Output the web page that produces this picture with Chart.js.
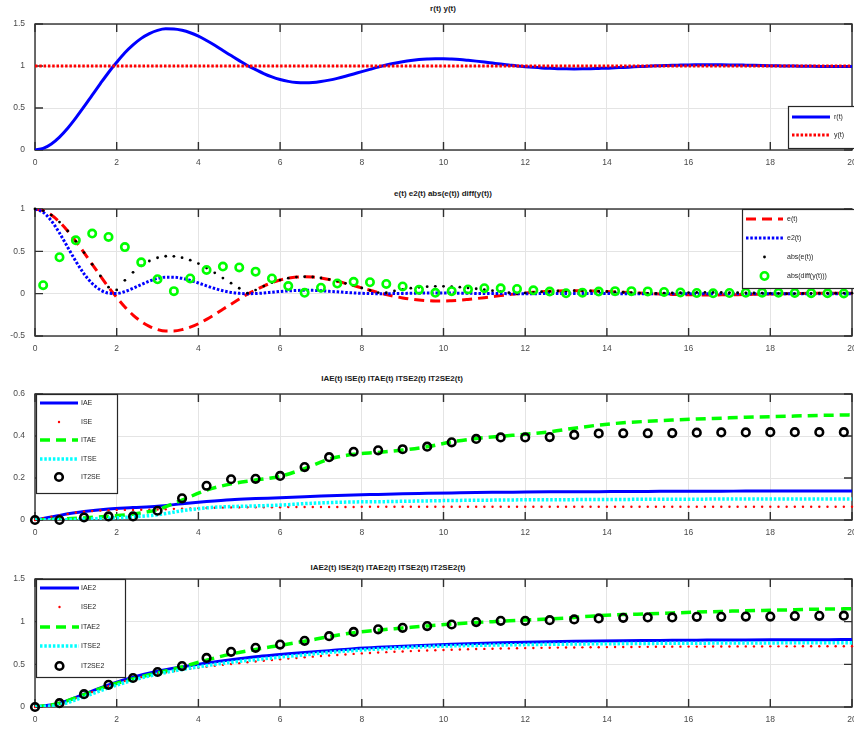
<!DOCTYPE html>
<html>
<head>
<meta charset="utf-8">
<script src="https://cdn.jsdelivr.net/npm/chart.js@4.4.1/dist/chart.umd.min.js"></script>
<style>
  body { margin: 0; background: #fff; width: 854px; height: 729px; overflow: hidden; position: relative; font-family: "Liberation Sans", Arial, sans-serif; }
  canvas { position: absolute; left: 0; }
  .ttl { position: absolute; font-size: 8px; font-weight: bold; color: #1a1a1a; white-space: nowrap; transform: translate(-50%, -50%); }
</style>
</head>
<body>
<div class="ttl" style="left:443px;top:8px">r(t) y(t)</div>
<div class="ttl" style="left:443px;top:193px">e(t) e2(t) abs(e(t)) diff(y(t))</div>
<div class="ttl" style="left:392px;top:378px">IAE(t) ISE(t) ITAE(t) ITSE2(t) IT2SE2(t)</div>
<div class="ttl" style="left:388px;top:567px">IAE2(t) ISE2(t) ITAE2(t) ITSE2(t) IT2SE2(t)</div>
<canvas id="c1" width="872" height="172" style="top:0px"></canvas>
<canvas id="c2" width="872" height="178" style="top:180px"></canvas>
<canvas id="c3" width="872" height="177" style="top:365px"></canvas>
<canvas id="c4" width="872" height="177" style="top:552px"></canvas>
<script>
// time grids
const t02 = [0,0.2,0.4,0.6,0.8,1,1.2,1.4,1.6,1.8,2,2.2,2.4,2.6,2.8,3,3.2,3.4,3.6,3.8,4,4.2,4.4,4.6,4.8,5,5.2,5.4,5.6,5.8,6,6.2,6.4,6.6,6.8,7,7.2,7.4,7.6,7.8,8,8.2,8.4,8.6,8.8,9,9.2,9.4,9.6,9.8,10,10.2,10.4,10.6,10.8,11,11.2,11.4,11.6,11.8,12,12.2,12.4,12.6,12.8,13,13.2,13.4,13.6,13.8,14,14.2,14.4,14.6,14.8,15,15.2,15.4,15.6,15.8,16,16.2,16.4,16.6,16.8,17,17.2,17.4,17.6,17.8,18,18.2,18.4,18.6,18.8,19,19.2,19.4,19.6,19.8,20];
const t04 = [0.2,0.6,1,1.4,1.8,2.2,2.6,3,3.4,3.8,4.2,4.6,5,5.4,5.8,6.2,6.6,7,7.4,7.8,8.2,8.6,9,9.4,9.8,10.2,10.6,11,11.4,11.8,12.2,12.6,13,13.4,13.8,14.2,14.6,15,15.4,15.8,16.2,16.6,17,17.4,17.8,18.2,18.6,19,19.4,19.8];
const t06 = [0,0.6,1.2,1.8,2.4,3,3.6,4.2,4.8,5.4,6,6.6,7.2,7.8,8.4,9,9.6,10.2,10.8,11.4,12,12.6,13.2,13.8,14.4,15,15.6,16.2,16.8,17.4,18,18.6,19.2,19.8];
const tLine = [0,0.6,1.2,1.8,2.4,3,3.6,4.2,4.8,5.4,6,6.6,7.2,7.8,8.4,9,9.6,10.2,10.8,11.4,12,12.6,13.2,13.8,14.4,15,15.6,16.2,16.8,17.4,18,18.6,19.2,19.8,20];
const tStep = [0, 20];

// panel 1
const rVals = [0,0.019,0.072,0.154,0.259,0.382,0.515,0.653,0.790,0.923,
  1.044,1.158,1.252,1.329,1.386,1.424,1.442,1.441,1.425,1.396,
  1.355,1.303,1.246,1.184,1.124,1.064,1.006,0.957,0.910,0.870,
  0.839,0.817,0.804,0.800,0.803,0.815,0.832,0.853,0.878,0.905,
  0.933,0.960,0.987,1.011,1.032,1.050,1.065,1.076,1.083,1.087,
  1.087,1.083,1.077,1.068,1.058,1.047,1.035,1.023,1.012,1.001,
  0.992,0.984,0.977,0.972,0.968,0.966,0.965,0.966,0.968,0.971,
  0.974,0.979,0.983,0.988,0.993,0.997,1.002,1.005,1.009,1.011,
  1.013,1.014,1.015,1.015,1.014,1.013,1.012,1.010,1.008,1.006,
  1.004,1.002,1.000,0.999,0.997,0.996,0.995,0.994,0.994,0.994,
  0.994];
const yVals = [1, 1];

// panel 2
const eVals = [1,0.981,0.928,0.846,0.741,0.618,0.485,0.347,0.210,0.077,
  -0.044,-0.158,-0.252,-0.329,-0.386,-0.424,-0.442,-0.441,-0.425,-0.396,
  -0.355,-0.303,-0.246,-0.184,-0.124,-0.064,-0.006,0.043,0.090,0.130,
  0.161,0.183,0.196,0.200,0.197,0.185,0.168,0.147,0.122,0.095,
  0.067,0.040,0.013,-0.011,-0.032,-0.050,-0.065,-0.076,-0.083,-0.087,
  -0.087,-0.083,-0.077,-0.068,-0.058,-0.047,-0.035,-0.023,-0.012,-0.001,
  0.008,0.016,0.023,0.028,0.032,0.034,0.035,0.034,0.032,0.029,
  0.026,0.021,0.017,0.012,0.007,0.003,-0.002,-0.005,-0.009,-0.011,
  -0.013,-0.014,-0.015,-0.015,-0.014,-0.013,-0.012,-0.010,-0.008,-0.006,
  -0.004,-0.002,0.000,0.001,0.003,0.004,0.005,0.006,0.006,0.006,
  0.006];
const e2Vals = [1,0.962,0.861,0.716,0.549,0.382,0.235,0.120,0.044,0.006,
  0.002,0.025,0.064,0.108,0.149,0.180,0.195,0.194,0.181,0.157,
  0.126,0.092,0.061,0.034,0.015,0.004,0.000,0.002,0.008,0.017,
  0.026,0.033,0.038,0.040,0.039,0.034,0.028,0.022,0.015,0.009,
  0.004,0.002,0.000,0.000,0.001,0.003,0.004,0.006,0.007,0.008,
  0.008,0.007,0.006,0.005,0.003,0.002,0.001,0.001,0.000,0.000,
  0.000,0.000,0.001,0.001,0.001,0.001,0.001,0.001,0.001,0.001,
  0.001,0.000,0.000,0.000,0.000,0.000,0.000,0.000,0.000,0.000,
  0.000,0.000,0.000,0.000,0.000,0.000,0.000,0.000,0.000,0.000,
  0.000,0.000,0.000,0.000,0.000,0.000,0.000,0.000,0.000,0.000,
  0.000];
const absEVals = [1,0.981,0.928,0.846,0.741,0.618,0.485,0.347,0.210,0.077,
  0.044,0.158,0.252,0.329,0.386,0.424,0.442,0.441,0.425,0.396,
  0.355,0.303,0.246,0.184,0.124,0.064,0.006,0.043,0.090,0.130,
  0.161,0.183,0.196,0.200,0.197,0.185,0.168,0.147,0.122,0.095,
  0.067,0.040,0.013,0.011,0.032,0.050,0.065,0.076,0.083,0.087,
  0.087,0.083,0.077,0.068,0.058,0.047,0.035,0.023,0.012,0.001,
  0.008,0.016,0.023,0.028,0.032,0.034,0.035,0.034,0.032,0.029,
  0.026,0.021,0.017,0.012,0.007,0.003,0.002,0.005,0.009,0.011,
  0.013,0.014,0.015,0.015,0.014,0.013,0.012,0.010,0.008,0.006,
  0.004,0.002,0.000,0.001,0.003,0.004,0.005,0.006,0.006,0.006,
  0.006];
const diffVals = [0.10,0.43,0.63,0.71,0.67,0.55,0.37,0.17,0.03,0.18,
  0.28,0.32,0.31,0.26,0.18,0.09,0.01,0.07,0.12,0.14,
  0.135,0.115,0.085,0.045,0.01,0.03,0.05,0.065,0.063,0.055,
  0.04,0.025,0.005,0.012,0.025,0.03,0.03,0.027,0.02,0.014,
  0.008,0.004,0.008,0.011,0.012,0.01,0.008,0.006,0.004,0.003];

// panel 3
const iaeVals = [0,0.022,0.04,0.052,0.059,0.066,0.077,0.088,0.097,0.102,0.106,0.111,0.115,0.119,0.122,0.125,0.127,0.129,0.131,0.132,0.133,0.134,0.135,0.135,0.136,0.136,0.137,0.137,0.137,0.138,0.138,0.138,0.138,0.138,0.138];
const iseVals = [0,0.008,0.016,0.022,0.029,0.036,0.040,0.043,0.045,0.047,
  0.048,0.048,0.048,0.049,0.049,0.050,0.051,0.053,0.054,0.055,
  0.056,0.057,0.058,0.059,0.060,0.060,0.061,0.061,0.061,0.061,
  0.061,0.062,0.062,0.062,0.062,0.062,0.062,0.062,0.062,0.062,
  0.063,0.063,0.063,0.063,0.063,0.063,0.063,0.063,0.063,0.063,
  0.063,0.063,0.063,0.063,0.063,0.063,0.063,0.063,0.063,0.063,
  0.063,0.063,0.063,0.063,0.063,0.063,0.063,0.063,0.063,0.063,
  0.063,0.063,0.063,0.063,0.063,0.063,0.063,0.063,0.063,0.063,
  0.063,0.063,0.063,0.063,0.063,0.063,0.063,0.063,0.063,0.063,
  0.063,0.063,0.063,0.063,0.063,0.063,0.063,0.063,0.063,0.063,
  0.063];
const itaeVals = [0,0.004,0.01,0.018,0.028,0.05,0.095,0.142,0.172,0.19,0.208,0.245,0.29,0.313,0.322,0.333,0.349,0.372,0.388,0.399,0.408,0.42,0.437,0.452,0.463,0.47,0.476,0.481,0.485,0.489,0.492,0.495,0.498,0.5,0.501];
const itseVals = [0,0.001,0.004,0.009,0.015,0.025,0.044,0.058,0.064,0.067,0.071,0.078,0.083,0.086,0.087,0.089,0.091,0.093,0.094,0.095,0.096,0.096,0.097,0.098,0.098,0.099,0.099,0.099,0.1,0.1,0.1,0.1,0.1,0.1,0.1];
const it2seVals = [0,0,0.012,0.017,0.017,0.044,0.103,0.163,0.194,0.196,0.21,0.252,0.299,0.325,0.332,0.337,0.349,0.37,0.386,0.393,0.393,0.395,0.405,0.412,0.413,0.413,0.414,0.416,0.417,0.417,0.418,0.418,0.418,0.418];

// panel 4
const iae2Vals = [0,0.045,0.15,0.26,0.35,0.42,0.47,0.515,0.555,0.59,0.615,0.64,0.66,0.683,0.7,0.713,0.725,0.735,0.744,0.752,0.759,0.765,0.77,0.774,0.777,0.779,0.781,0.783,0.785,0.786,0.787,0.788,0.789,0.79,0.79];
const ise2Vals = [0,0.01,0.025,0.045,0.075,0.105,0.14,0.175,0.21,0.245,
  0.275,0.305,0.33,0.35,0.37,0.39,0.405,0.42,0.435,0.448,
  0.46,0.472,0.483,0.494,0.504,0.514,0.524,0.533,0.542,0.551,
  0.559,0.567,0.575,0.583,0.59,0.597,0.604,0.61,0.616,0.622,
  0.628,0.633,0.638,0.643,0.647,0.651,0.655,0.659,0.662,0.665,
  0.668,0.671,0.674,0.676,0.679,0.681,0.683,0.685,0.687,0.689,
  0.69,0.692,0.693,0.695,0.696,0.697,0.698,0.699,0.7,0.701,
  0.702,0.703,0.704,0.704,0.705,0.705,0.706,0.706,0.707,0.707,
  0.708,0.708,0.708,0.709,0.709,0.709,0.71,0.71,0.71,0.71,
  0.711,0.711,0.711,0.711,0.712,0.712,0.712,0.712,0.712,0.712,
  0.712];
const itae2Vals = [0,0.045,0.145,0.25,0.33,0.4,0.47,0.55,0.62,0.675,0.722,0.77,0.825,0.87,0.9,0.925,0.95,0.972,0.99,1.005,1.02,1.032,1.05,1.07,1.083,1.092,1.102,1.112,1.12,1.128,1.134,1.14,1.147,1.15,1.152];
const itse2Vals = [0,0.025,0.12,0.225,0.315,0.385,0.44,0.485,0.525,0.555,0.585,0.612,0.64,0.662,0.68,0.695,0.708,0.716,0.722,0.727,0.731,0.735,0.738,0.741,0.743,0.745,0.747,0.748,0.749,0.75,0.751,0.752,0.752,0.753,0.753];
const it2se2Vals = [0,0.045,0.15,0.26,0.34,0.41,0.48,0.575,0.646,0.693,0.732,0.775,0.83,0.88,0.91,0.928,0.948,0.967,0.995,1.01,1.01,1.018,1.026,1.038,1.045,1.05,1.05,1.057,1.057,1.06,1.06,1.065,1.069,1.07];

const FONT = '"Liberation Sans", Arial, sans-serif';

function pts(ts, vs) {
  return ts.map((t, i) => ({ x: t, y: vs[i] }));
}

function lineDs(label, ts, vs, color, width, dash) {
  return {
    label, data: pts(ts, vs), showLine: true,
    borderColor: color, borderWidth: width, borderDash: dash || [],
    pointRadius: 0, fill: false, cubicInterpolationMode: 'monotone'
  };
}

function dotDs(label, ts, vs, color, radius) {
  return {
    label, data: pts(ts, vs), showLine: false, mark: 'dot',
    pointRadius: radius, pointBorderWidth: 0,
    pointBackgroundColor: color, pointBorderColor: color, clip: false
  };
}

function ringDs(label, ts, vs, color, radius) {
  return {
    label, data: pts(ts, vs), showLine: false, mark: 'ring',
    pointRadius: radius, pointBorderWidth: 2.6,
    pointBackgroundColor: 'rgba(0,0,0,0)', pointBorderColor: color, clip: false
  };
}

// tick labels without trailing zeros ("1" not "1.0")
function plainTick(v) {
  return String(Number(v.toFixed(2)));
}

// axes box with inward ticks, like the original figure
const matBox = {
  id: 'matBox',
  beforeDatasetsDraw(chart) {
    const { ctx, chartArea: a, scales } = chart;
    ctx.save();
    ctx.strokeStyle = '#303030';
    ctx.lineWidth = 1.4;
    ctx.setLineDash([]);
    ctx.strokeRect(a.left, a.top, a.right - a.left, a.bottom - a.top);
    ctx.beginPath();
    scales.x.ticks.forEach(t => {
      const px = scales.x.getPixelForValue(t.value);
      ctx.moveTo(px, a.bottom); ctx.lineTo(px, a.bottom - 8);
      ctx.moveTo(px, a.top); ctx.lineTo(px, a.top + 8);
    });
    scales.y.ticks.forEach(t => {
      const py = scales.y.getPixelForValue(t.value);
      ctx.moveTo(a.left, py); ctx.lineTo(a.left + 8, py);
      ctx.moveTo(a.right, py); ctx.lineTo(a.right - 8, py);
    });
    ctx.stroke();
    ctx.restore();
  }
};

// legend box drawn inside the plot
const matLegend = {
  id: 'matLegend',
  afterDraw(chart, args, opts) {
    if (!opts.box) return;
    const ctx = chart.ctx;
    const [bx, by, bw, bh] = opts.box;
    const [x1, x2] = opts.sample;
    ctx.save();
    ctx.fillStyle = '#fff';
    ctx.fillRect(bx, by, bw, bh);
    ctx.strokeStyle = '#262626';
    ctx.lineWidth = 1.2;
    ctx.setLineDash([]);
    ctx.strokeRect(bx + 0.5, by + 0.5, bw, bh);
    ctx.font = '7px ' + FONT;
    ctx.textBaseline = 'middle';
    chart.data.datasets.forEach((ds, i) => {
      const y = opts.rows[i];
      if (ds.showLine) {
        ctx.strokeStyle = ds.borderColor;
        ctx.lineWidth = ds.borderWidth;
        ctx.setLineDash(ds.borderDash);
        ctx.beginPath();
        ctx.moveTo(x1, y); ctx.lineTo(x2, y);
        ctx.stroke();
        ctx.setLineDash([]);
      } else if (ds.mark === 'dot') {
        ctx.fillStyle = ds.pointBackgroundColor;
        ctx.beginPath();
        ctx.arc((x1 + x2) / 2, y, ds.pointRadius, 0, Math.PI * 2);
        ctx.fill();
      } else {
        ctx.strokeStyle = ds.pointBorderColor;
        ctx.lineWidth = ds.pointBorderWidth;
        ctx.beginPath();
        ctx.arc((x1 + x2) / 2, y, ds.pointRadius, 0, Math.PI * 2);
        ctx.stroke();
      }
      ctx.fillStyle = '#262626';
      ctx.fillText(ds.label, opts.textX, y);
    });
    ctx.restore();
  }
};

function makeChart(id, plotTop, yMin, yMax, yStep, datasets, legend) {
  const n = datasets.length;
  datasets.forEach((ds, i) => { ds.order = n - i; });
  return new Chart(document.getElementById(id), {
    type: 'line',
    data: { datasets },
    plugins: [matBox, matLegend],
    options: {
      responsive: false,
      animation: false,
      events: [],
      layout: { padding: { top: plotTop, right: 20, left: 0, bottom: 0 } },
      plugins: {
        legend: { display: false },
        tooltip: { enabled: false },
        matLegend: legend
      },
      scales: {
        x: {
          type: 'linear', min: 0, max: 20,
          ticks: { stepSize: 2, padding: 8, color: '#4a4a4a', font: { family: FONT, size: 8.5 }, callback: plainTick },
          grid: { color: '#e4e4e4', drawTicks: false },
          border: { display: false },
          afterFit(s) { s.height = 22; }
        },
        y: {
          min: yMin, max: yMax,
          ticks: { stepSize: yStep, padding: 10, color: '#4a4a4a', font: { family: FONT, size: 8.5 }, callback: plainTick },
          grid: { color: '#e4e4e4', drawTicks: false },
          border: { display: false },
          afterFit(s) { s.width = 35; }
        }
      }
    }
  });
}

makeChart('c1', 24, 0, 1.5, 0.5, [
  lineDs('r(t)', t02, rVals, '#0000ff', 3),
  lineDs('y(t)', tStep, yVals, '#ff0000', 3, [2.5, 1.8])
], { box: [788, 106, 70, 42], rows: [117, 135], sample: [792, 830], textX: 834 });

makeChart('c2', 29, -0.5, 1, 0.5, [
  lineDs('e(t)', t02, eVals, '#ff0000', 3, [10, 6]),
  lineDs('e2(t)', t02, e2Vals, '#0000ff', 3, [2.5, 1.8]),
  dotDs('abs(e(t))', t02, absEVals, '#000000', 1.4),
  ringDs('abs(diff(y(t)))', t04, diffVals, '#00ff00', 3.7)
], { box: [742, 29, 120, 79], rows: [39, 58, 77, 96], sample: [746, 783], textX: 787 });

makeChart('c3', 29, 0, 0.6, 0.2, [
  lineDs('IAE', tLine, iaeVals, '#0000ff', 3),
  dotDs('ISE', t02, iseVals, '#ff0000', 1.2),
  lineDs('ITAE', tLine, itaeVals, '#00ff00', 3.5, [10, 6]),
  lineDs('ITSE', tLine, itseVals, '#00ffff', 3.5, [2.5, 1.8]),
  ringDs('IT2SE', t06, it2seVals, '#000000', 3.8)
], { box: [36, 29, 81, 99], rows: [38, 57, 75, 94, 112], sample: [40, 78], textX: 81 });

makeChart('c4', 27, 0, 1.5, 0.5, [
  lineDs('IAE2', tLine, iae2Vals, '#0000ff', 3),
  dotDs('ISE2', t02, ise2Vals, '#ff0000', 1.2),
  lineDs('ITAE2', tLine, itae2Vals, '#00ff00', 3.5, [10, 6]),
  lineDs('ITSE2', tLine, itse2Vals, '#00ffff', 3.5, [2.5, 1.8]),
  ringDs('IT2SE2', t06, it2se2Vals, '#000000', 3.8)
], { box: [36, 27, 89, 98], rows: [36, 55, 75, 94, 114], sample: [40, 79], textX: 81 });
</script>
</body>
</html>
